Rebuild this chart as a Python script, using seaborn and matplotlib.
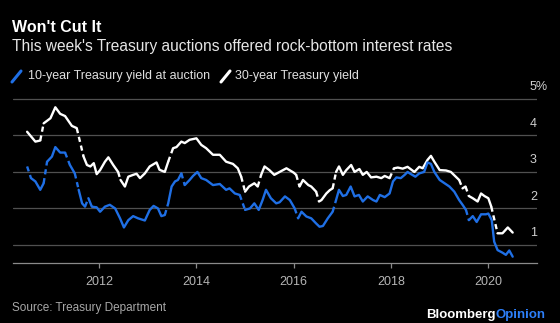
import numpy as np
import pandas as pd
import matplotlib
matplotlib.use("Agg")
import matplotlib.pyplot as plt
import matplotlib.transforms as mtransforms
from matplotlib.lines import Line2D
import seaborn as sns

# ---------------- data (None = a broken/dashed joint in the published line) ----------------
thirty_year_dates = [
    2010.52, 2010.69, 2010.79, None,
    2010.86, 2011.00, 2011.10, 2011.20, 2011.30, 2011.44, 2011.54, None,
    2011.68, 2011.75, 2011.82, 2011.89, 2011.95, 2012.02, 2012.12, 2012.19, 2012.29, 2012.39, None,
    2012.44, 2012.53, 2012.60, 2012.70, 2012.77, 2012.84, 2012.94, 2013.04, 2013.18, 2013.24, None,
    2013.35, 2013.42, None,
    2013.52, 2013.59, 2013.69, 2013.76, 2013.86, 2014.00, 2014.10, 2014.20, 2014.34, 2014.48,
    2014.61, 2014.75, 2014.85, 2014.92, None,
    2015.00, 2015.08, 2015.19, 2015.26, None,
    2015.33, 2015.40, 2015.50, 2015.60, 2015.71, 2015.85, 2016.00, 2016.05, None,
    2016.12, 2016.19, 2016.30, 2016.36, 2016.46, None,
    2016.52, 2016.57, 2016.67, 2016.74, 2016.80, None,
    2016.87, 2016.93, 2017.01, 2017.08, 2017.18, 2017.25, 2017.35, 2017.42, 2017.50, 2017.59,
    2017.70, 2017.80, 2017.87, 2017.97, None,
    2018.06, 2018.14, 2018.24, 2018.34, 2018.41, 2018.48, 2018.58, 2018.65, 2018.75, 2018.82,
    2018.89, 2019.00, 2019.13, 2019.23, 2019.33, 2019.40, None,
    2019.47, 2019.53, None,
    2019.60, 2019.68, 2019.78, 2019.85, 2019.92, 2020.00, 2020.06, None,
    2020.19, 2020.29, 2020.40, 2020.50,
]
thirty_year_yield = [
    4.10, 3.83, 3.86, None,
    4.33, 4.47, 4.77, 4.59, 4.53, 4.26, 4.20, None,
    3.42, 3.19, 3.15, 3.24, 2.94, 3.05, 3.28, 3.40, 3.19, 3.00, None,
    2.78, 2.60, 2.87, 2.92, 2.95, 2.83, 2.96, 3.15, 3.26, 3.06, None,
    3.00, 3.28, None,
    3.65, 3.68, 3.83, 3.79, 3.88, 3.92, 3.74, 3.65, 3.47, 3.47,
    3.28, 3.22, 3.10, 2.87, None,
    2.46, 2.60, 2.69, 2.60, None,
    2.92, 3.15, 3.05, 2.92, 3.00, 3.10, 2.98, 2.92, None,
    2.60, 2.78, 2.64, 2.60, 2.46, None,
    2.19, 2.23, 2.41, 2.50, 2.55, None,
    3.00, 3.15, 2.92, 3.05, 3.19, 3.00, 3.08, 2.92, 3.00, 2.85,
    2.87, 2.83, 2.89, 2.83, None,
    3.10, 3.12, 3.09, 3.14, 3.07, 3.00, 3.14, 3.10, 3.33, 3.44,
    3.28, 3.05, 3.04, 3.00, 2.87, 2.78, None,
    2.55, 2.60, None,
    2.34, 2.28, 2.19, 2.41, 2.34, 2.28, 2.05, None,
    1.32, 1.32, 1.48, 1.34,
]

ten_year_dates = [
    2010.52, None,
    2010.60, 2010.69, 2010.79, 2010.86, None,
    2010.93, 2011.03, 2011.10, 2011.20, 2011.30, None,
    2011.40, 2011.50, None,
    2011.58, 2011.65, 2011.71, None,
    2011.78, 2011.85, None,
    2011.95, 2012.02, 2012.12, 2012.22, 2012.33, 2012.43, 2012.51, 2012.60, 2012.70, 2012.80,
    2012.94, 2013.04, 2013.12, 2013.21, 2013.28, 2013.35, None,
    2013.42, 2013.49, 2013.56, 2013.62, 2013.69, None,
    2013.76, 2013.86, 2013.93, 2014.02, 2014.10, 2014.20, 2014.34, 2014.48, 2014.61, 2014.68,
    2014.79, 2014.89, None,
    2015.00, 2015.10, 2015.19, 2015.28, 2015.36, 2015.43, 2015.53, 2015.64, 2015.71, 2015.82,
    2015.92, 2016.02, None,
    2016.09, 2016.16, 2016.26, 2016.36, 2016.46, 2016.53, 2016.60, 2016.70, 2016.80, None,
    2016.87, 2016.93, 2017.01, 2017.08, 2017.17, 2017.25, 2017.34, 2017.42, 2017.52, 2017.63,
    2017.70, 2017.77, 2017.87, 2017.97, 2018.04, 2018.11, 2018.20, 2018.28, 2018.34, 2018.41,
    2018.50, 2018.58, 2018.68, 2018.75, 2018.82, 2018.89, 2019.00, 2019.10, 2019.20, 2019.30,
    2019.40, 2019.47, 2019.54, None,
    2019.60, 2019.68, 2019.76, 2019.85, 2019.95, 2020.00, 2020.07, 2020.12, 2020.19, 2020.29,
    2020.36, 2020.43, 2020.50,
]
ten_year_yield = [
    3.15, None,
    2.83, 2.74, 2.51, 2.69, None,
    3.28, 3.42, 3.68, 3.53, 3.53, None,
    3.19, 2.96, None,
    2.51, 2.14, 2.05, None,
    2.28, 2.05, None,
    2.03, 1.91, 2.05, 2.10, 2.00, 1.73, 1.48, 1.68, 1.79, 1.73,
    1.67, 1.96, 2.07, 2.00, 1.79, 1.82, None,
    2.14, 2.60, 2.74, 2.78, 2.96, None,
    2.64, 2.78, 2.89, 3.00, 2.83, 2.78, 2.64, 2.67, 2.51, 2.55,
    2.41, 2.37, None,
    1.96, 2.00, 2.14, 1.96, 2.23, 2.51, 2.28, 2.14, 2.17, 2.33,
    2.23, 2.00, None,
    1.73, 1.91, 1.78, 1.73, 1.59, 1.50, 1.52, 1.73, 1.91, None,
    2.23, 2.51, 2.34, 2.37, 2.60, 2.33, 2.37, 2.19, 2.33, 2.23,
    2.19, 2.37, 2.31, 2.41, 2.74, 2.85, 2.83, 2.92, 3.00, 2.94,
    2.87, 2.96, 3.00, 3.26, 3.22, 3.00, 2.78, 2.69, 2.60, 2.46,
    2.23, 2.10, 1.96, None,
    1.68, 1.79, 1.63, 1.84, 1.84, 1.86, 1.68, 1.09, 0.86, 0.79,
    0.73, 0.85, 0.68,
]

x_ticks = [2012, 2014, 2016, 2018, 2020]
x_tick_labels = ["2012", "2014", "2016", "2018", "2020"]
y_ticks = [1, 2, 3, 4, 5]
y_tick_labels = ["1", "2", "3", "4", "5%"]

title = "Won't Cut It"
subtitle = "This week's Treasury auctions offered rock-bottom interest rates"
legend_labels = ["10-year Treasury yield at auction", "30-year Treasury yield"]
source = "Source: Treasury Department"

BLUE = "#1f6fe5"
WHITE = "#ffffff"
BG = "#000000"


# ---------------- build frames: solid runs, broken joints drawn dashed ----------------
def build_runs(dates, values):
    rows = []
    seg = 0
    prev = None
    broken = False
    for d, v in zip(dates, values):
        if v is None:
            broken = True
            continue
        if prev is not None and broken:
            # dashed joint between previous point and this one
            seg += 1
            rows.append((prev[0], prev[1], seg, "dash"))
            rows.append((d, v, seg, "dash"))
            seg += 1
            rows.append((d, v, seg, "solid"))
        else:
            rows.append((d, v, seg, "solid"))
        broken = False
        prev = (d, v)
    df = pd.DataFrame(rows, columns=["year", "value", "seg", "kind"])
    return df


df10 = build_runs(ten_year_dates, ten_year_yield)
df30 = build_runs(thirty_year_dates, thirty_year_yield)

# ---------------- figure ----------------
sns.set_theme(style="dark")
plt.rcParams["font.family"] = ["Liberation Sans", "DejaVu Sans"]

W, H = 560, 323
fig = plt.figure(figsize=(W / 100, H / 100), dpi=100, facecolor=BG)

ax_left, ax_right, ax_top, ax_bottom = 13, 537, 85, 262.7
ax = fig.add_axes([ax_left / W, 1 - ax_bottom / H,
                   (ax_right - ax_left) / W, (ax_bottom - ax_top) / H])
ax.set_facecolor(BG)

dash_map = {"solid": "", "dash": (2.2, 1.6)}
sns.lineplot(data=df30, x="year", y="value", units="seg", estimator=None,
             style="kind", dashes=dash_map, sort=False,
             color=WHITE, lw=1.7, ax=ax, legend=False)
sns.lineplot(data=df10, x="year", y="value", units="seg", estimator=None,
             style="kind", dashes=dash_map, sort=False,
             color=BLUE, lw=1.7, ax=ax, legend=False)

ax.set_xlim(2010.23, 2021.0)
ax.set_ylim(0.515, 5.38)

# gridlines
ax.set_yticks(y_ticks)
ax.yaxis.grid(True, color="#505050", lw=0.9)
ax.xaxis.grid(False)
ax.set_axisbelow(True)
ax.tick_params(axis="y", left=False, labelleft=False)

# y labels sitting above gridlines at the right
ytrans = mtransforms.blended_transform_factory(ax.transAxes, ax.transData)
for v, lab in zip(y_ticks, y_tick_labels):
    ax.text((530 - ax_left) / (ax_right - ax_left), v + 0.315, lab,
            transform=ytrans, ha="left", va="center", fontsize=9, color="#d0d0d0")

ax.set_xticks(x_ticks)
ax.set_xticklabels(x_tick_labels)
ax.tick_params(axis="x", direction="out", length=3.5, width=0.9, color="#8a8a8a",
               labelcolor="#b5b5b5", labelsize=9, pad=6, bottom=True)

for s in ["top", "left", "right"]:
    ax.spines[s].set_visible(False)
ax.spines["bottom"].set_visible(True)
ax.spines["bottom"].set_color("#8a8a8a")
ax.spines["bottom"].set_linewidth(0.9)
ax.set_xlabel("")
ax.set_ylabel("")


# ---------------- texts ----------------
def fy(py):
    return 1 - py / H


fig.text(12 / W, fy(28), title, fontsize=11.5, fontweight="bold", color="white",
         ha="left", va="center")
fig.text(12 / W, fy(47), subtitle, fontsize=11.2, color="#e6e6e6",
         ha="left", va="center")

# legend
fig.add_artist(Line2D([12 / W, 21 / W], [fy(82), fy(71)], color=BLUE, lw=2.2,
                      transform=fig.transFigure))
fig.text(28 / W, fy(76.5), legend_labels[0], fontsize=9, color="#e0e0e0",
         ha="left", va="center")
fig.add_artist(Line2D([221 / W, 230 / W], [fy(82), fy(71)], color=WHITE, lw=2.2,
                      transform=fig.transFigure))
fig.text(235 / W, fy(76.5), legend_labels[1], fontsize=9, color="#e0e0e0",
         ha="left", va="center")

fig.text(12 / W, fy(308), source, fontsize=8.5, color="#a8a8a8",
         ha="left", va="center")

op = fig.text(546 / W, fy(315), "Opinion", fontsize=9.5, fontweight="bold",
              color="#2d7ff9", ha="right", va="center")
fig.canvas.draw()
bb = op.get_window_extent(renderer=fig.canvas.get_renderer())
fig.text(bb.x0 / W, fy(315), "Bloomberg", fontsize=9.5, fontweight="bold",
         color="white", ha="right", va="center")

fig.savefig("out.png", dpi=100, facecolor=BG)
